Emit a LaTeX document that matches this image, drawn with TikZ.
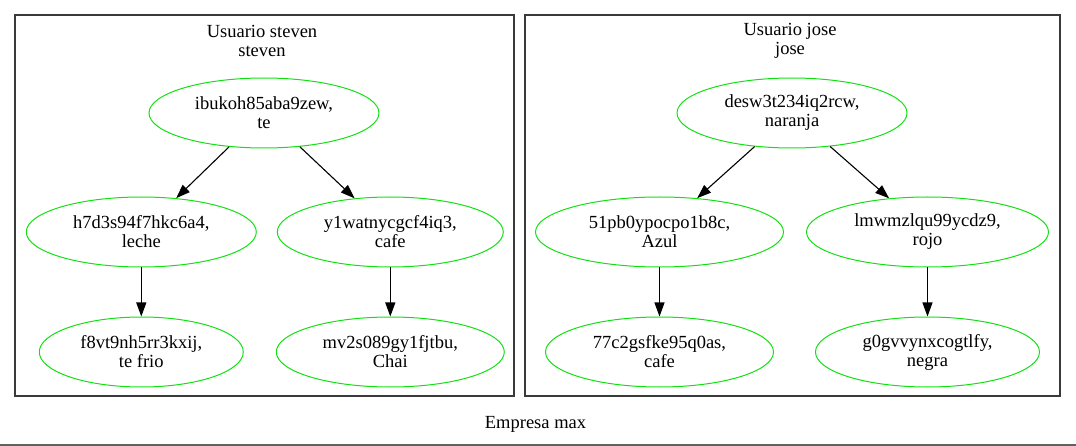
\documentclass[tikz,border=0pt]{standalone}
\usepackage{fontspec}
\setmainfont{Liberation Serif}
\usetikzlibrary{arrows.meta, shapes.geometric}
\definecolor{ink}{HTML}{000000}
\definecolor{frameB}{HTML}{3A3A3A}
\definecolor{greenB}{HTML}{12E012}
\tikzset{
  caption/.style={font=\fontsize{18.5}{19}\selectfont, text=ink, align=center},
  entry/.style={ellipse, draw=greenB, line width=1pt, inner sep=0pt, align=center, font=\fontsize{18.5}{19}\selectfont, text=ink},
  cluster/.style={draw=frameB, line width=1.3pt, inner sep=0pt},
  link/.style={-{Triangle[length=14pt, width=10pt]}, line width=1.1pt, draw=ink}
}

\begin{document}
\begin{tikzpicture}[x=1pt,y=-1pt]
\useasboundingbox (0,0) rectangle (1076,446);

\node[cluster, minimum width=499pt, minimum height=381pt] (clSteven) at (264.5,205.5) {};
\node[cluster, minimum width=535pt, minimum height=381pt] (clJose) at (792.5,205.5) {};

\node[caption] (tSteven) at (262,41) {Usuario steven\\steven};
\node[caption] (tJose) at (790,41) {Usuario jose\\jose};

\node[entry, minimum width=230pt, minimum height=70pt] (ibukoh) at (264,113) {ibukoh85aba9zew,\\te};
\node[entry, minimum width=230pt, minimum height=70pt] (h7d3) at (141.3,232) {h7d3s94f7hkc6a4,\\leche};
\node[entry, minimum width=226pt, minimum height=70pt] (y1wat) at (390.3,232) {y1watnycgcf4iq3,\\cafe};
\node[entry, minimum width=204pt, minimum height=70pt] (f8vt) at (141.3,352) {f8vt9nh5rr3kxij,\\te frio};
\node[entry, minimum width=228pt, minimum height=70pt] (mv2s) at (390.3,352) {mv2s089gy1fjtbu,\\Chai};

\node[entry, minimum width=230pt, minimum height=70pt] (desw) at (792,113) {desw3t234iq2rcw,\\naranja};
\node[entry, minimum width=248pt, minimum height=70pt] (pb51) at (659.5,232) {51pb0ypocpo1b8c,\\Azul};
\node[entry, minimum width=242pt, minimum height=70pt] (lmwm) at (927.5,232) {lmwmzlqu99ycdz9,\\rojo};
\node[entry, minimum width=228pt, minimum height=70pt] (c277) at (659.5,352) {77c2gsfke95q0as,\\cafe};
\node[entry, minimum width=224pt, minimum height=70pt] (g0gv) at (927.5,352) {g0gvvynxcogtlfy,\\negra};

\draw[link] (ibukoh) -- (h7d3);
\draw[link] (ibukoh) -- (y1wat);
\draw[link] (h7d3.south) -- (f8vt.north);
\draw[link] (y1wat.south) -- (mv2s.north);

\draw[link] (desw) -- (pb51);
\draw[link] (desw) -- (lmwm);
\draw[link] (pb51.south) -- (c277.north);
\draw[link] (lmwm.south) -- (g0gv.north);

\node[caption] (empresa) at (535.5,424) {Empresa max};

\draw[frameB!80, line width=1.1pt] (0,445) -- (1076,445);

\end{tikzpicture}
\end{document}
